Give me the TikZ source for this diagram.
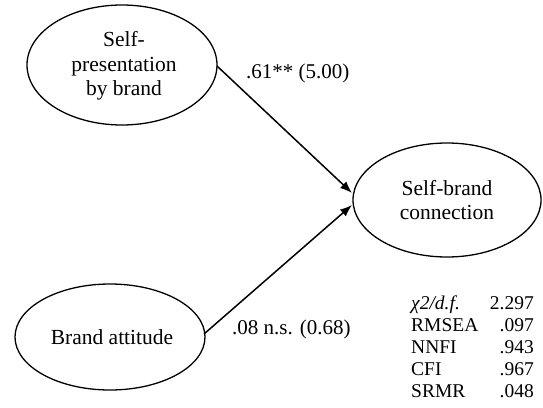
\documentclass[tikz,border=0pt]{standalone}
\usepackage{fontspec}
\setmainfont{Liberation Serif}
\usetikzlibrary{shapes.geometric,arrows.meta}
\begin{document}
\begin{tikzpicture}[x=1pt,y=-1pt,
  latent/.style={draw,line width=1.3pt},
  path/.style={line width=1.5pt,-{Latex[length=12pt,width=9pt]}},
  lbl/.style={font=\fontsize{21}{24}\selectfont,inner sep=0pt},
  fit/.style={font=\fontsize{19.5}{22}\selectfont,inner sep=0pt},
  txt/.style={font=\fontsize{21.5}{24.5}\selectfont,align=center,inner sep=0pt}]
\useasboundingbox (0,0) rectangle (543,407);
\draw[latent] (122,65) ellipse [x radius=95, y radius=60];
\node[txt] (spb) at (124,66) {Self-\\presentation\\by brand};
\draw[latent] (447,200) ellipse [x radius=94, y radius=57];
\node[txt] (sbc) at (447,200) {Self-brand\\connection};
\draw[latent] (110,337) ellipse [x radius=95, y radius=53];
\node[txt] (ba) at (112,337) {Brand attitude};
\coordinate (s1) at (217,66);
\coordinate (t1) at (352,193);
\coordinate (s2) at (204,334);
\coordinate (t2) at (352,205);
\draw[path] (s1) -- (t1);
\draw[path] (s2) -- (t2);
\node[lbl,anchor=west] (l1) at (246,73) {.61** (5.00)};
\node[lbl,anchor=west] (l2) at (232,329) {.08 n.s. (0.68)};
\node[fit,anchor=base west] (f1) at (411,309) {\textit{χ2/d.f.}};
\node[fit,anchor=base east] (v1) at (534,309) {2.297};
\node[fit,anchor=base west] (f2) at (411,331) {RMSEA};
\node[fit,anchor=base east] (v2) at (534,331) {.097};
\node[fit,anchor=base west] (f3) at (411,353) {NNFI};
\node[fit,anchor=base east] (v3) at (534,353) {.943};
\node[fit,anchor=base west] (f4) at (411,375) {CFI};
\node[fit,anchor=base east] (v4) at (534,375) {.967};
\node[fit,anchor=base west] (f5) at (411,397) {SRMR};
\node[fit,anchor=base east] (v5) at (534,397) {.048};
\end{tikzpicture}
\end{document}
